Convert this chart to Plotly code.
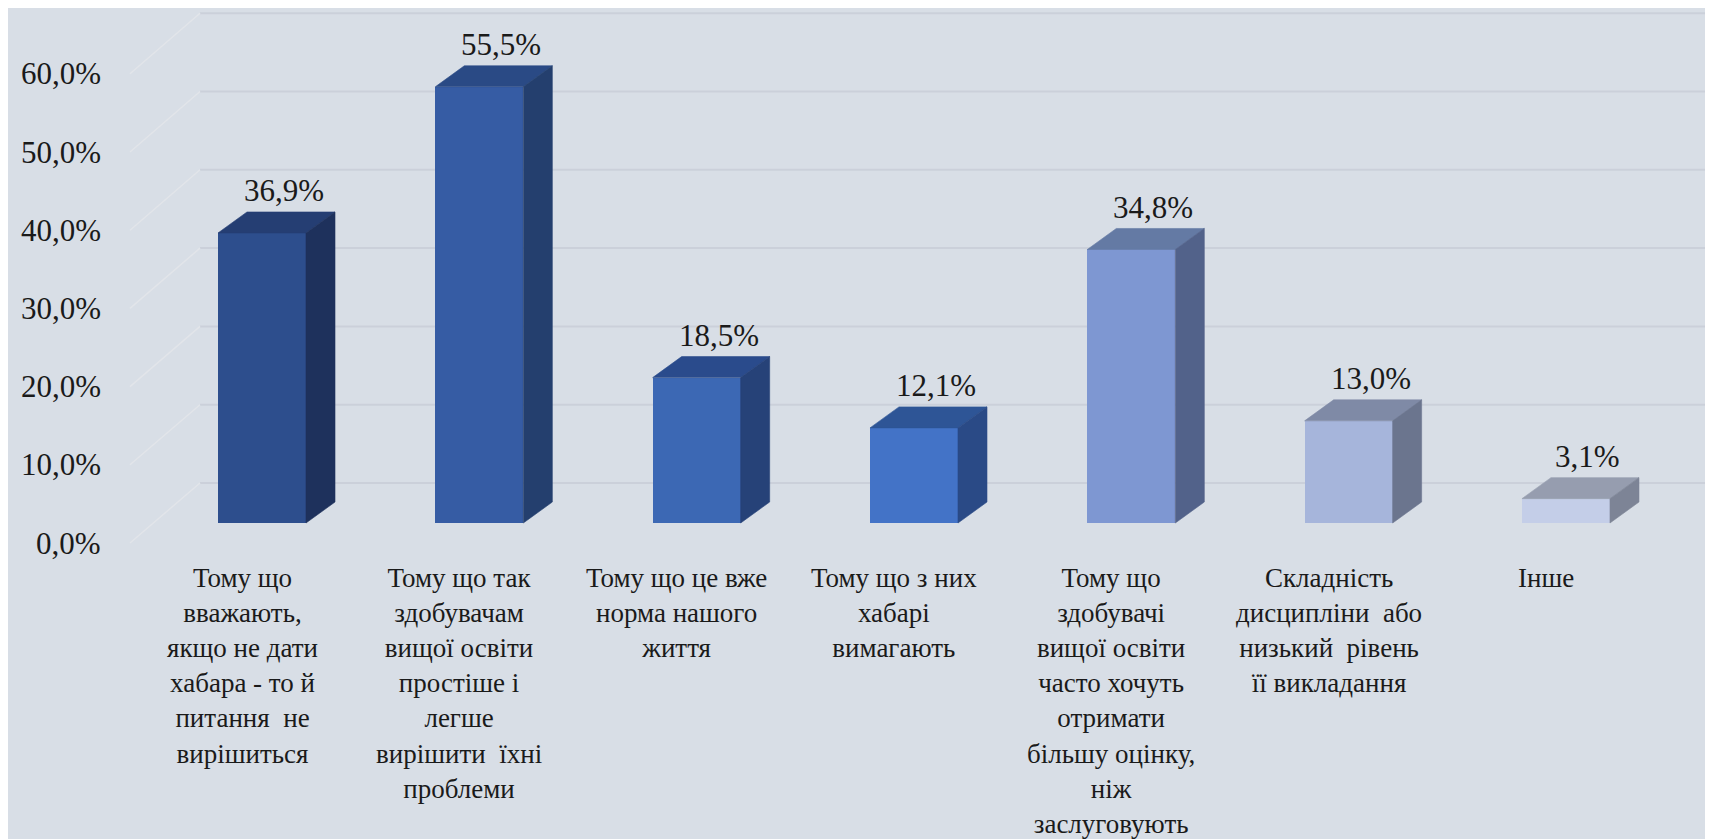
import plotly.graph_objects as go

# ---------------- data ----------------
categories = [
    "Тому що<br>вважають,<br>якщо не дати<br>хабара - то й<br>питання  не<br>вирішиться",
    "Тому що так<br>здобувачам<br>вищої освіти<br>простіше і<br>легше<br>вирішити  їхні<br>проблеми",
    "Тому що це вже<br>норма нашого<br>життя",
    "Тому що з них<br>хабарі<br>вимагають",
    "Тому що<br>здобувачі<br>вищої освіти<br>часто хочуть<br>отримати<br>більшу оцінку,<br>ніж<br>заслуговують",
    "Складність<br>дисципліни  або<br>низький  рівень<br>її викладання",
    "Інше",
]
values = [36.9, 55.5, 18.5, 12.1, 34.8, 13.0, 3.1]
tick_values = [0, 10, 20, 30, 40, 50, 60]
tick_labels = ["0,0%", "10,0%", "20,0%", "30,0%", "40,0%", "50,0%", "60,0%"]
value_labels = [f"{v:.1f}".replace(".", ",") + "%" for v in values]

# ---------------- style ----------------
front_colors = ["#2d4e8d", "#365ca4", "#3c68b4", "#4373c7", "#7e97d2", "#a6b5db", "#c4cee8"]
top_colors = ["#253e73", "#2a4a85", "#2a4b8c", "#2e5596", "#647aa4", "#7f8aa6", "#969daf"]
side_colors = ["#1e315c", "#243f6e", "#264278", "#2a4a86", "#52628a", "#6b758e", "#7d8496"]
BG = "#d8dee6"
GRID = "#cbd0da"
DIAG = "#e2e5ea"
TXT = "#1a1a1a"
FONT = "Liberation Serif"

PAGE_W, PAGE_H = 1713, 839
BODY_MARGIN = 8                        # default page margin around the plot div
W, H = PAGE_W - BODY_MARGIN, PAGE_H - BODY_MARGIN

# geometry in page pixels
X0_PX, X_STEP_PX = 262.0, 217.33      # first category centre, pixels per category
Y0_PX, Y_PER_PX = 523.0, 7.86         # 0 % on the bar plane, pixels per %

def px_to_x(p):
    return (p - X0_PX) / X_STEP_PX

def px_to_y(p):
    return (Y0_PX - p) / Y_PER_PX

BAR_W = 88 / X_STEP_PX
DX = 29 / X_STEP_PX
DY = 21 / Y_PER_PX

BACK_ZERO_PX, BACK_SCALE = 483.0, 7.83
FRONT_ZERO_PX, FRONT_SCALE = 543.0, 7.82
BACK_LEFT_PX, FRONT_LEFT_PX = 200.0, 130.0

n = len(values)
xs = list(range(n))

fig = go.Figure()

# front faces
fig.add_trace(go.Bar(
    x=xs, y=values, width=BAR_W,
    marker=dict(color=front_colors, line=dict(width=0)),
    hoverinfo="skip", showlegend=False,
))

# top and side faces
for i, v in enumerate(values):
    l, r = i - BAR_W / 2, i + BAR_W / 2
    fig.add_trace(go.Scatter(
        x=[l, l + DX, r + DX, r, l], y=[v, v + DY, v + DY, v, v],
        fill="toself", fillcolor=top_colors[i], mode="lines",
        line=dict(width=0.6, color=top_colors[i]),
        hoverinfo="skip", showlegend=False,
    ))
    fig.add_trace(go.Scatter(
        x=[r, r + DX, r + DX, r, r], y=[0, DY, v + DY, v, 0],
        fill="toself", fillcolor=side_colors[i], mode="lines",
        line=dict(width=0.6, color=side_colors[i]),
        hoverinfo="skip", showlegend=False,
    ))

x_min, x_max = px_to_x(BODY_MARGIN), px_to_x(PAGE_W)
y_min, y_max = px_to_y(PAGE_H), px_to_y(BODY_MARGIN)

shapes = []
annotations = []
for tv, tl in zip(tick_values, tick_labels):
    yb = px_to_y(BACK_ZERO_PX - BACK_SCALE * tv)
    yf = px_to_y(FRONT_ZERO_PX - FRONT_SCALE * tv)
    xb = px_to_x(BACK_LEFT_PX)
    xf = px_to_x(FRONT_LEFT_PX)
    shapes.append(dict(type="line", xref="x", yref="y", x0=xb, x1=x_max, y0=yb, y1=yb,
                       line=dict(color=GRID, width=2), layer="below"))
    shapes.append(dict(type="line", xref="x", yref="y", x0=xf, x1=xb, y0=yf, y1=yb,
                       line=dict(color=DIAG, width=1.5), layer="below"))
    annotations.append(dict(x=px_to_x(103), y=yf, xref="x", yref="y", text=tl,
                            showarrow=False, xanchor="right", yanchor="middle",
                            font=dict(family=FONT, size=31, color=TXT)))

for i, (v, lab) in enumerate(zip(values, value_labels)):
    annotations.append(dict(x=i, y=v + DY, xref="x", yref="y", text=lab,
                            showarrow=False, xanchor="center", yanchor="middle",
                            xshift=22, yshift=21,
                            font=dict(family=FONT, size=31, color=TXT)))

for i, cat in enumerate(categories):
    annotations.append(dict(x=i, y=px_to_y(561), xref="x", yref="y", text=cat,
                            showarrow=False, xanchor="center", yanchor="top",
                            xshift=-20, align="center",
                            font=dict(family=FONT, size=27, color=TXT)))

# blank page-referenced annotation using the serif family
annotations.append(dict(x=0.8, y=0.8, xref="paper", yref="paper", text="&nbsp;",
                        showarrow=False, font=dict(family=FONT, size=30)))

fig.update_layout(
    width=W, height=H, autosize=False,
    margin=dict(l=0, r=0, t=0, b=0, pad=0),
    paper_bgcolor=BG, plot_bgcolor=BG,
    xaxis=dict(range=[x_min, x_max], visible=False, fixedrange=True),
    yaxis=dict(range=[y_min, y_max], visible=False, fixedrange=True),
    shapes=shapes, annotations=annotations,
    showlegend=False, bargap=0,
)

fig.write_html("out.html")
